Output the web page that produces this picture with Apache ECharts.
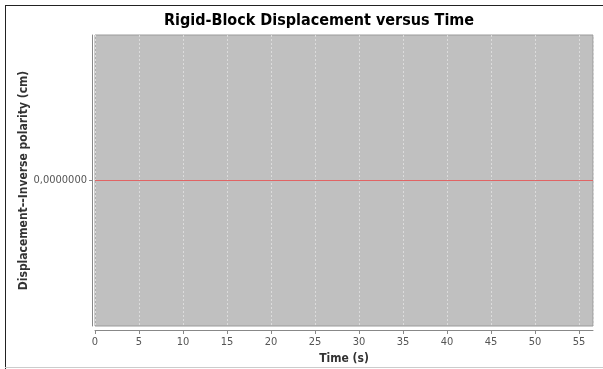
<!DOCTYPE html>
<html>
<head>
<meta charset="utf-8">
<script src="https://cdn.jsdelivr.net/npm/echarts@6/dist/echarts.min.js"></script>
<style>
  html, body { margin: 0; padding: 0; background: #ffffff; }
  #chart { width: 603px; height: 369px; }
</style>
</head>
<body>
<div id="chart"></div>
<script>
// Time samples (s) and displacement (cm), inverse polarity
const timeValues = [0, 5, 10, 15, 20, 25, 30, 35, 40, 45, 50, 55, 56.6];
const displacementValues = [0, 0, 0, 0, 0, 0, 0, 0, 0, 0, 0, 0, 0];
const yTickValues = [0];

const titleText = 'Rigid-Block Displacement versus Time';
const xName = 'Time (s)';
const yName = 'Displacement--Inverse polarity (cm)';

const chart = echarts.init(document.getElementById('chart'), null, { renderer: 'canvas' });

const fontFamily = '"DejaVu Sans Condensed", "DejaVu Sans", sans-serif';

chart.setOption({
  animation: false,
  backgroundColor: '#ffffff',
  title: {
    text: titleText,
    left: 314,
    textAlign: 'center',
    top: 8,
    textStyle: { fontFamily: fontFamily, fontWeight: 'bold', fontSize: 16, color: '#000000' }
  },
  grid: {
    left: 95, top: 35, right: 10, bottom: 43,
    outerBoundsMode: 'none',
    show: true,
    backgroundColor: '#c0c0c0',
    borderColor: '#9a9a9a',
    borderWidth: 1
  },
  xAxis: {
    type: 'value',
    min: 0,
    max: 56.6,
    interval: 5,
    offset: 4,
    name: xName,
    nameLocation: 'middle',
    nameGap: 22,
    nameTextStyle: { fontFamily: fontFamily, fontWeight: 'bold', fontSize: 12, color: '#333333' },
    axisLine: { show: true, onZero: false, lineStyle: { color: '#888888', width: 1 } },
    axisTick: { show: true, length: 4, lineStyle: { color: '#888888' } },
    axisLabel: {
      fontFamily: fontFamily, fontSize: 11, color: '#555555', margin: 7,
      showMaxLabel: false
    },
    splitLine: { show: true, lineStyle: { color: '#dcdcdc', type: [2, 2], width: 1 } }
  },
  yAxis: {
    type: 'value',
    min: -1,
    max: 1,
    interval: 1,
    offset: 3,
    name: yName,
    nameLocation: 'middle',
    nameGap: 62,
    nameMoveOverlap: false,
    nameTextStyle: { fontFamily: fontFamily, fontWeight: 'bold', fontSize: 12, color: '#333333' },
    axisLine: { show: true, onZero: false, lineStyle: { color: '#888888', width: 1 } },
    axisTick: { show: true, length: 3, customValues: yTickValues, lineStyle: { color: '#888888' } },
    axisLabel: {
      customValues: yTickValues,
      fontFamily: fontFamily, fontSize: 11, color: '#555555', margin: 5,
      formatter: v => v.toFixed(7).replace('.', ',')
    },
    splitLine: { show: false }
  },
  series: [{
    type: 'line',
    data: timeValues.map((t, i) => [t, displacementValues[i]]),
    showSymbol: false,
    lineStyle: { color: '#e06464', width: 1 },
    silent: true
  }],
  graphic: [
    { type: 'line', shape: { x1: 5.5, y1: 5, x2: 5.5, y2: 369 }, style: { stroke: '#222222', lineWidth: 1 } },
    { type: 'line', shape: { x1: 5, y1: 5.5, x2: 603, y2: 5.5 }, style: { stroke: '#222222', lineWidth: 1 } },
    { type: 'line', shape: { x1: 5, y1: 367.5, x2: 603, y2: 367.5 }, style: { stroke: '#cccccc', lineWidth: 1 } }
  ]
});
</script>
</body>
</html>
